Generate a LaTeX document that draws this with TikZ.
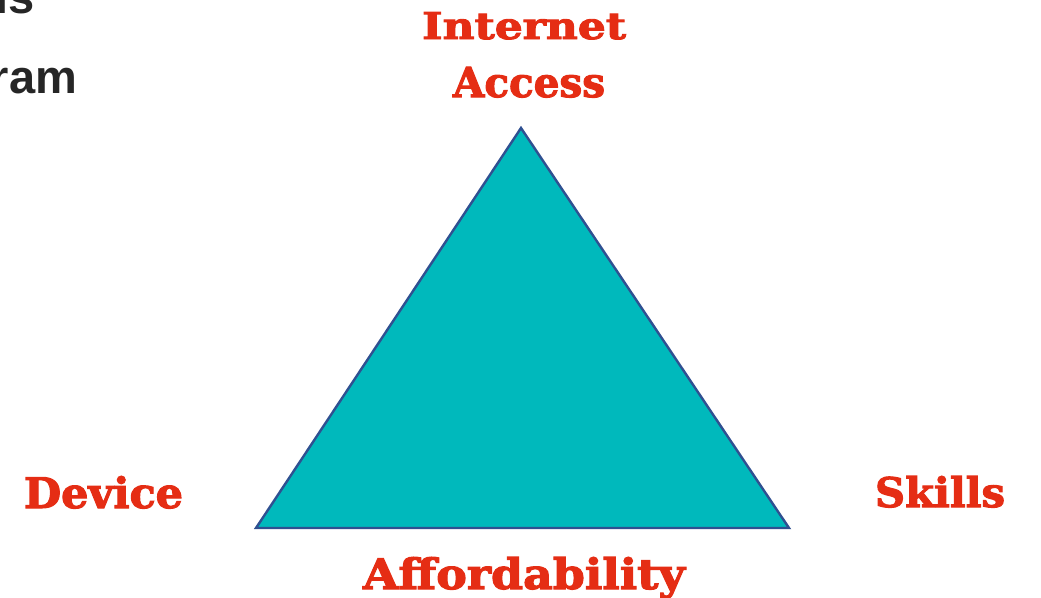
\documentclass[tikz,border=0pt]{standalone}
\usepackage{fontspec}
\usepackage{graphicx}
\setmainfont{DejaVu Serif}
\newfontfamily\lblfont{DejaVu Serif}[BoldFont={* Bold}, BoldFeatures={FakeBold=2.5}]
\newfontfamily\grayfont{Liberation Sans}
\definecolor{lblred}{RGB}{229,45,20}
\definecolor{tealfill}{RGB}{0,185,188}
\definecolor{edgeblue}{RGB}{47,80,145}
\definecolor{graytext}{RGB}{38,38,38}
\newcommand\fitword[3]{\resizebox{#1pt}{#2pt}{\lblfont\bfseries #3}}
\tikzset{
  lbl/.style={inner sep=0pt, outer sep=0pt, text=lblred, anchor=base west},
  grayline/.style={inner sep=0pt, outer sep=0pt, text=graytext, anchor=base east, font=\grayfont\bfseries\fontsize{47}{52}\selectfont},
  tri/.style={fill=tealfill, draw=edgeblue, line width=2.4pt, line join=miter}
}
\begin{document}
\begin{tikzpicture}[x=1pt,y=-1pt]
\useasboundingbox (0,0) rectangle (1041,597);
% triangle
\coordinate (apex) at (521,128);
\coordinate (bl) at (256,528);
\coordinate (br) at (789,528);
\draw[tri] (apex) -- (br) -- (bl) -- cycle;
% labels
\node[lbl] (internet) at (422,39) {\fitword{204}{27}{Internet}};
\node[lbl] (access) at (453,97) {\fitword{152}{30}{Access}};
\node[lbl] (device) at (24,508) {\fitword{159}{32}{Device}};
\node[lbl] (skills) at (875,507) {\fitword{130}{31}{Skills}};
\node[lbl] (afford) at (363,589) {\fitword{322}{32}{Affordability}};
% cut-off gray text at top left
\node[grayline] (ls) at (35,13) {ls};
\node[grayline] (ram) at (77,93) {ram};
\end{tikzpicture}
\end{document}
